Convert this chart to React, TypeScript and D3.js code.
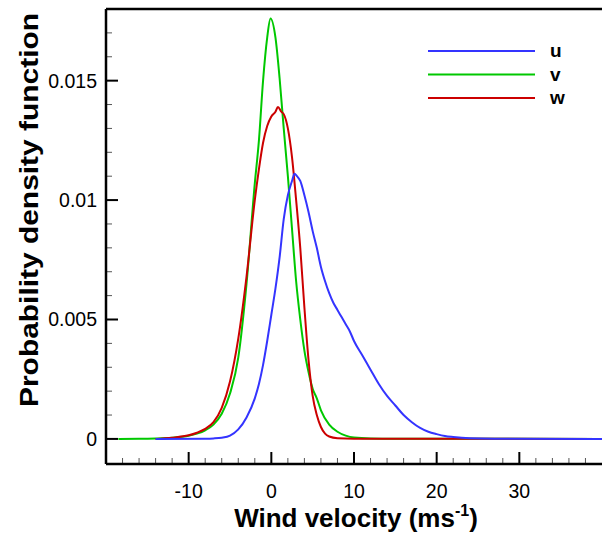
import React from 'react';
import * as d3 from 'd3';

// values: [wind velocity, pdf]
const uSeries: [number, number][] = [
  [-14, 0], [-8, 0.00001], [-7, 0.00002], [-6, 0.00005], [-5, 0.00014], [-4, 0.0004],
  [-3, 0.0009], [-2, 0.0017], [-1.5, 0.0023], [-1, 0.0031], [-0.5, 0.0041], [0, 0.0052],
  [0.5, 0.0063], [1, 0.0076], [1.5, 0.0092], [2, 0.0102], [2.5, 0.0108], [2.8, 0.0111],
  [3.1, 0.0110], [3.5, 0.0108], [4, 0.0102], [4.5, 0.0095], [5, 0.0087], [5.5, 0.0080],
  [6, 0.0072], [6.5, 0.0066], [7, 0.0061], [7.5, 0.0057], [8, 0.0054], [8.5, 0.0051],
  [9, 0.0048], [9.5, 0.0045], [10, 0.0041], [11, 0.0035], [12, 0.0029], [13, 0.0023],
  [14, 0.0018], [15, 0.0014], [16, 0.0010], [17, 0.0007], [18, 0.00046], [19, 0.0003],
  [20, 0.0002], [21, 0.00012], [22, 0.00008], [24, 0.00003], [27, 0.00001], [40, 0],
];

const vSeries: [number, number][] = [
  [-18.5, 0], [-16, 0.00001], [-14, 0.00002], [-12, 0.00005], [-10, 0.00013], [-9, 0.00022],
  [-8, 0.00036], [-7, 0.0006], [-6, 0.00105], [-5, 0.0019], [-4, 0.0034], [-3, 0.0065],
  [-2, 0.0107], [-1.5, 0.0125], [-1, 0.015], [-0.5, 0.0168], [-0.1, 0.0176], [0.5, 0.0168],
  [1, 0.0151], [1.5, 0.013], [2, 0.011], [2.5, 0.0088], [3, 0.0066], [3.5, 0.005],
  [4, 0.0037], [4.5, 0.0028], [5, 0.0021], [5.5, 0.0017], [6, 0.0012], [7, 0.0006],
  [8, 0.0003], [9, 0.00014], [10, 0.00006], [12, 0.00002], [15, 0.00001], [40, 0],
];

const wSeries: [number, number][] = [
  [-14, 0], [-12, 0.00005], [-10, 0.00015], [-9, 0.00026], [-8, 0.00042], [-7, 0.0007],
  [-6, 0.0013], [-5, 0.0024], [-4, 0.0042], [-3, 0.0068], [-2, 0.01], [-1.5, 0.0113],
  [-1, 0.0124], [-0.5, 0.0131], [0, 0.0135], [0.5, 0.0137], [0.8, 0.0139], [1.2, 0.0137],
  [1.5, 0.0136], [2, 0.013], [2.5, 0.0118], [3, 0.01], [3.5, 0.008], [4, 0.0055],
  [4.5, 0.0033], [5, 0.0018], [5.5, 0.001], [6, 0.0005], [6.5, 0.00022], [7, 0.0001],
  [8, 0.00003], [10, 0.00001], [40, 0],
];

const seriesNames = ['u', 'v', 'w'];
const seriesColors = ['#3434ff', '#00c800', '#cc0000'];
const xMajorTicks = [-10, 0, 10, 20, 30];
const yMajorTicks = [0, 0.005, 0.01, 0.015];
const yTickLabels = ['0', '0.005', '0.01', '0.015'];

const W = 602, H = 536;
const left = 106, right = 602, top = 9, bottom = 464;

export default function App() {
  const x = d3.scaleLinear().domain([-20, 40]).range([left, right]);
  const y = d3.scaleLinear().domain([-0.00105, 0.018]).range([bottom, top]);
  const line = d3.line<[number, number]>()
    .x(d => x(d[0]))
    .y(d => y(d[1]))
    .curve(d3.curveMonotoneX);

  const xMinor = d3.range(-18, 40, 2).filter(v => v % 10 !== 0);
  const yMinor = d3.range(1, 18).map(i => i * 0.001).filter((v, i) => (i + 1) % 5 !== 0);
  const all = [uSeries, vSeries, wSeries];
  const font = 'Arial, "Liberation Sans", sans-serif';

  return (
    <svg width={W} height={H} style={{position: 'absolute', left: 0, top: 0}} fontFamily={font}>
      <rect width={W} height={H} fill="#fff" />
      <defs>
        <clipPath id="plot"><rect x={left} y={top} width={right - left} height={bottom - top} /></clipPath>
      </defs>
      <g clipPath="url(#plot)">
        {[1, 2, 0].map(i => (
          <path key={i} d={line(all[i]) || ''} fill="none" stroke={seriesColors[i]} strokeWidth={2} />
        ))}
      </g>

      {/* minor ticks */}
      {xMinor.map(v => (
        <line key={'xm' + v} x1={x(v)} x2={x(v)} y1={bottom} y2={bottom - 6} stroke="#555" strokeWidth={1} />
      ))}
      {yMinor.map(v => (
        <line key={'ym' + v} x1={left} x2={left + 6} y1={y(v)} y2={y(v)} stroke="#555" strokeWidth={1} />
      ))}
      {/* major ticks */}
      {xMajorTicks.map(v => (
        <g key={'x' + v}>
          <line x1={x(v)} x2={x(v)} y1={bottom} y2={bottom - 12} stroke="#000" strokeWidth={2} />
          <text x={x(v)} y={498} fontSize={19.5} textAnchor="middle">{v}</text>
        </g>
      ))}
      {yMajorTicks.map((v, i) => (
        <g key={'y' + v}>
          <line x1={left} x2={left + 12} y1={y(v)} y2={y(v)} stroke="#000" strokeWidth={2} />
          <text x={97} y={y(v) + 7} fontSize={19.5} textAnchor="end">{yTickLabels[i]}</text>
        </g>
      ))}

      {/* frame */}
      <line x1={left} x2={right} y1={top} y2={top} stroke="#000" strokeWidth={2.5} />
      <line x1={left} x2={left} y1={top} y2={bottom} stroke="#000" strokeWidth={2.5} />
      <line x1={left} x2={right} y1={bottom} y2={bottom} stroke="#000" strokeWidth={2.5} />

      {/* legend */}
      {seriesNames.map((n, i) => (
        <g key={n}>
          <line x1={428} x2={535} y1={51 + i * 23.5} y2={51 + i * 23.5} stroke={seriesColors[i]} strokeWidth={2} />
          <text x={550} y={57 + i * 23.5} fontSize={19} fontWeight="bold">{n}</text>
        </g>
      ))}

      {/* axis titles */}
      <text x={356} y={527} fontSize={26} fontWeight="bold" textAnchor="middle">
        Wind velocity (ms<tspan dy={-11} fontSize={16}>-1</tspan><tspan dy={11}>)</tspan>
      </text>
      <text transform="translate(38,210) rotate(-90)" fontSize={26} fontWeight="bold" textAnchor="middle"
        textLength={394} lengthAdjust="spacingAndGlyphs">
        Probability density function
      </text>
    </svg>
  );
}
